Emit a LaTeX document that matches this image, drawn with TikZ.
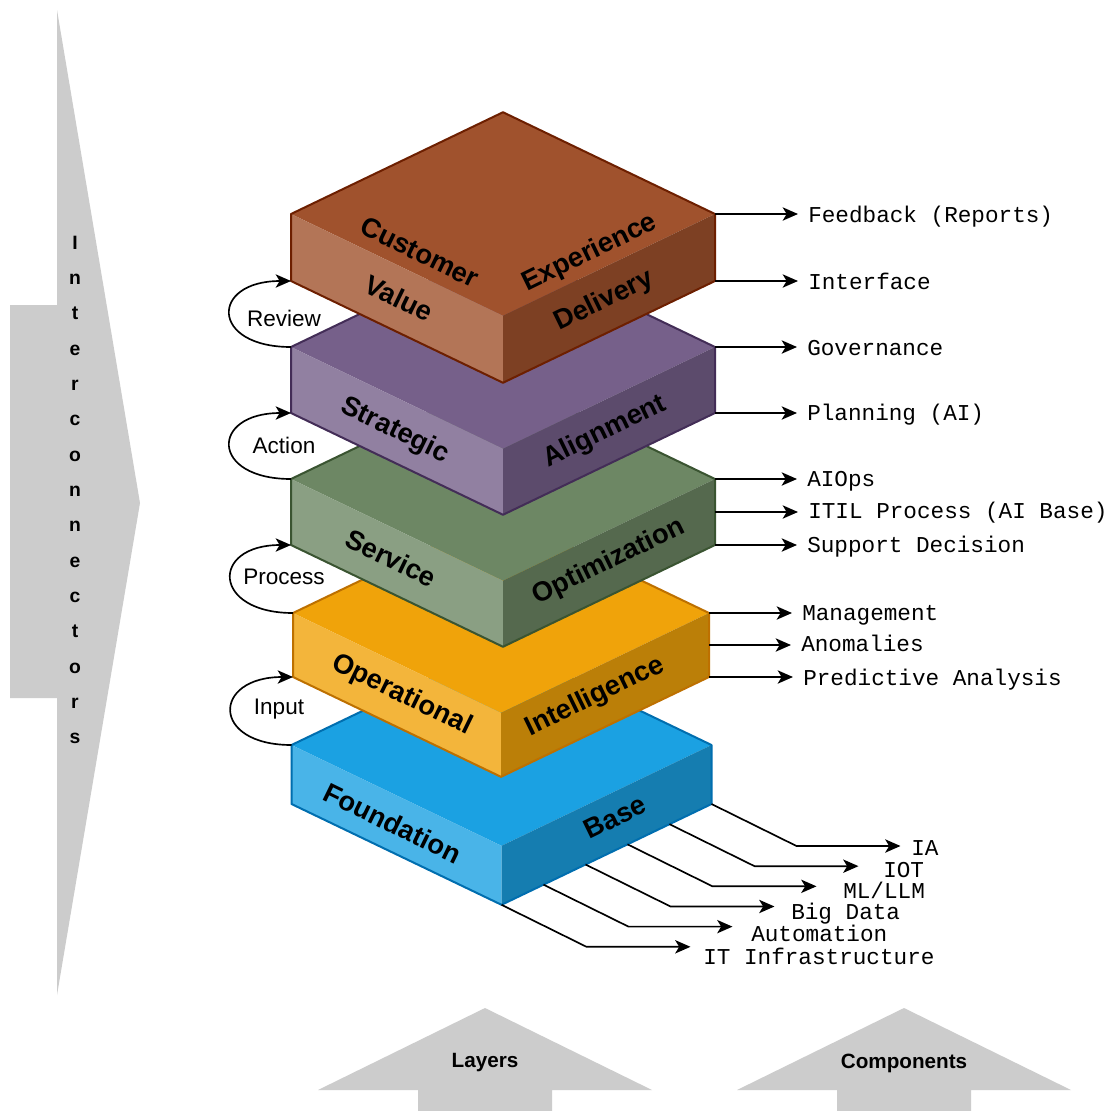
\documentclass[tikz,border=0pt]{standalone}
\usepackage{fontspec}
\setmainfont{Liberation Sans}
\newfontfamily\codefont{Liberation Mono}
\usetikzlibrary{positioning,calc,arrows.meta}

\definecolor{brownF}{HTML}{A0522D}  \definecolor{brownS}{HTML}{6D1F00}
\definecolor{purpleF}{HTML}{76608A} \definecolor{purpleS}{HTML}{432D57}
\definecolor{greenF}{HTML}{6D8764}  \definecolor{greenS}{HTML}{3A5431}
\definecolor{orangeF}{HTML}{F0A30A} \definecolor{orangeS}{HTML}{BD7000}
\definecolor{blueF}{HTML}{1BA1E2}   \definecolor{blueS}{HTML}{006EAF}

\tikzset{
  bigarrow/.style={fill=gray!40,draw=none},
  lbl/.style={font=\bfseries\fontsize{20.5}{24}\selectfont,inner sep=0pt},
  looptag/.style={font=\fontsize{16.9}{20}\selectfont,inner sep=0pt},
  outtag/.style={font=\codefont\fontsize{17}{20}\selectfont,inner sep=0pt,anchor=west,text height=11.2pt,text depth=0pt},
  headtag/.style={font=\bfseries\fontsize{15.5}{18}\selectfont,inner sep=0pt},
  link/.style={line width=1.25pt,-{Stealth[length=11.5pt,width=10pt,inset=3pt]}}
}

\begin{document}
\begin{tikzpicture}[x=0.75pt,y=-0.75pt]
\path[fill=white,use as bounding box] (0,0) rectangle (1115,1111);

% grey arrows
\fill[bigarrow] (10,305) -- (57,305) -- (57,10) -- (140,503) -- (57,995) -- (57,698) -- (10,698) -- cycle;
\node[font=\bfseries\fontsize{14.5}{26.5}\selectfont,align=center,inner sep=0pt] (inter) at (75,490)
  {I\\n\\t\\e\\r\\c\\o\\n\\n\\e\\c\\t\\o\\r\\s};
\fill[bigarrow] (418,1111) -- (418,1090) -- (318,1090) -- (485,1008) -- (652,1090) -- (552,1090) -- (552,1111) -- cycle;
\node[headtag] (layers) at (485,1063) {Layers};
\fill[bigarrow] (837,1111) -- (837,1090) -- (737,1090) -- (904,1008) -- (1071,1090) -- (971,1090) -- (971,1111) -- cycle;
\node[headtag] (comps) at (904,1063) {Components};

% the five layers, bottom one first
\foreach \i/\cx/\yl/\hw/\tk/\fcol/\scol in {5/501.5/745/210/59/blueF/blueS,
    4/501/613/208/64/orangeF/orangeS, 3/503/479/212/66/greenF/greenS,
    2/503/347/212/66/purpleF/purpleS, 1/503/214/212/67/brownF/brownS}{
  \pgfmathsetmacro\dd{0.48*\hw}
  \coordinate (L\i-l) at (\cx-\hw,\yl);
  \coordinate (L\i-r) at (\cx+\hw,\yl);
  \coordinate (L\i-t) at (\cx,\yl-\dd);
  \coordinate (L\i-m) at (\cx,\yl+\dd);
  \coordinate (L\i-lb) at (\cx-\hw,\yl+\tk);
  \coordinate (L\i-rb) at (\cx+\hw,\yl+\tk);
  \coordinate (L\i-rm) at (\cx+\hw,\yl+\tk/2);
  \coordinate (L\i-f) at (\cx,\yl+\dd+\tk);
  \fill[\fcol] (L\i-l) -- (L\i-t) -- (L\i-r) -- (L\i-m) -- cycle;
  \fill[\fcol!80!white] (L\i-l) -- (L\i-m) -- (L\i-f) -- (L\i-lb) -- cycle;
  \fill[\fcol!78!black] (L\i-m) -- (L\i-r) -- (L\i-rb) -- (L\i-f) -- cycle;
  \draw[\scol,line width=1.5pt,line join=round] (L\i-l) -- (L\i-t) -- (L\i-r) -- (L\i-rb) -- (L\i-f) -- (L\i-lb) -- cycle;
}

% layer names
\node[lbl,rotate=-26] (cust) at (420,252) {Customer};
\node[lbl,rotate=26] (exp) at (590,253) {Experience};
\node[lbl,rotate=-26] (val) at (399,298) {Value};
\node[lbl,rotate=26] (deliv) at (604,301) {Delivery};
\node[lbl,rotate=-26] (strat) at (395,431) {Strategic};
\node[lbl,rotate=26] (align) at (605,432) {Alignment};
\node[lbl,rotate=-26] (serv) at (391,558) {Service};
\node[lbl,rotate=26] (optim) at (609,562) {Optimization};
\node[lbl,rotate=-26] (oper) at (402,695) {Operational};
\node[lbl,rotate=26] (intel) at (595,697) {Intelligence};
\node[lbl,rotate=-26] (found) at (393,823) {Foundation};
\node[lbl,rotate=26] (base) at (615,817) {Base};

% loops between layers
\draw[link] (L2-l) .. controls +(-81,0) and +(-81,0) .. (L1-lb);
\draw[link] (L3-l) .. controls +(-81,0) and +(-81,0) .. (L2-lb);
\draw[link] (L4-l) .. controls +(-81,0) and +(-81,0) .. (L3-lb);
\draw[link] (L5-l) .. controls +(-81,0) and +(-81,0) .. (L4-lb);
\node[looptag] (review) at (284,318) {Review};
\node[looptag] (action) at (284,445) {Action};
\node[looptag] (process) at (284,577) {Process};
\node[looptag] (input) at (279,709) {Input};

% outputs on the right
\foreach \from/\nm/\x/\y/\txt in {L1-r/fb/808/215/Feedback (Reports), L1-rb/iface/808/282/Interface,
    L2-r/gov/807/348/Governance, L2-rb/plan/807/413/Planning (AI),
    L3-r/aiops/807/479/AIOps, L3-rm/itil/808/511/ITIL Process (AI Base), L3-rb/supp/807/545/Support Decision,
    L4-r/mgmt/802/613/Management, L4-rm/anom/801/644/Anomalies, L4-rb/pred/803/678/Predictive Analysis}{
  \node[outtag] (\nm) at (\x,\y) {\txt};
  \draw[link,shorten >=7.5pt] (\from) -- (\from -| \nm.west);
}

% components under the base
\foreach \k/\nm in {0/ia,1/iot,2/ml,3/bd,4/auto,5/itinf}{
  \coordinate (\nm-s) at ($(L5-rb)!\k/5!(L5-f)$);
  \draw[link] (\nm-s) -- ++(85,42) -- ++(104,0) coordinate (\nm-e);
}
\node[outtag] (ia) at (911,848) {IA};
\node[outtag] (iot) at (883,870) {IOT};
\node[outtag] (ml) at (843,891) {ML/LLM};
\node[outtag] (bd) at (791,912) {Big Data};
\node[outtag] (auto) at (751,934) {Automation};
\node[outtag] (itinf) at (703,957) {IT Infrastructure};
\end{tikzpicture}
\end{document}
